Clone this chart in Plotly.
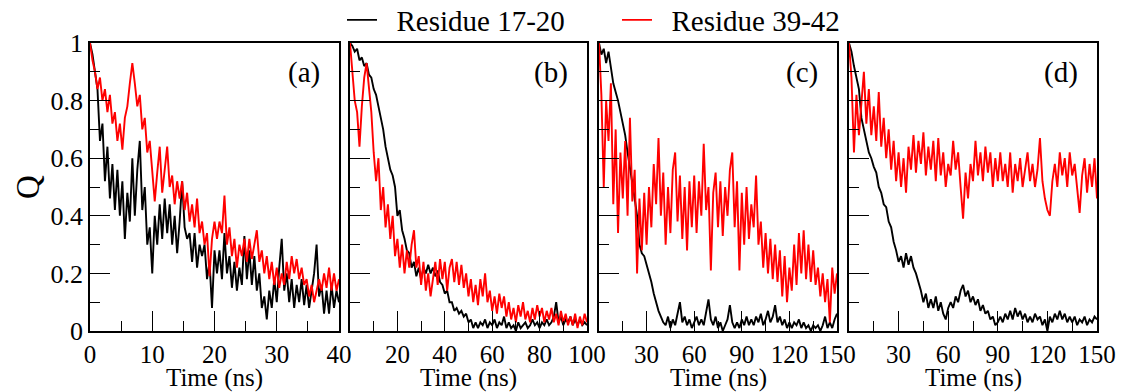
import numpy as np
import plotly.graph_objects as go

# ---------------- data (Q vs time) ----------------
series_names = ["Residue 17-20", "Residue 39-42"]
panel_labels = ["(a)", "(b)", "(c)", "(d)"]
x_title = "Time (ns)"
y_title = "Q"
t_max = [40, 100, 150, 150]

a_black = [1.00, 0.96, 0.90, 0.84, 0.66, 0.72, 0.52, 0.64, 0.46, 0.58, 0.42, 0.56, 0.40, 0.52, 0.32, 0.48,
           0.38, 0.60, 0.40, 0.56, 0.66, 0.42, 0.50, 0.30, 0.36, 0.20, 0.40, 0.30, 0.44, 0.32, 0.46, 0.34,
           0.44, 0.30, 0.40, 0.27, 0.38, 0.52, 0.36, 0.32, 0.34, 0.24, 0.34, 0.22, 0.30, 0.26, 0.30, 0.18,
           0.24, 0.08, 0.28, 0.20, 0.28, 0.18, 0.34, 0.20, 0.26, 0.15, 0.24, 0.14, 0.22, 0.16, 0.33, 0.18,
           0.28, 0.16, 0.26, 0.14, 0.20, 0.08, 0.12, 0.04, 0.14, 0.08, 0.18, 0.10, 0.22, 0.32, 0.14, 0.20,
           0.10, 0.18, 0.08, 0.16, 0.10, 0.18, 0.09, 0.16, 0.08, 0.14, 0.20, 0.30, 0.12, 0.16, 0.06, 0.14,
           0.06, 0.16, 0.08, 0.14, 0.10]
a_red = [1.00, 0.94, 0.90, 0.84, 0.88, 0.80, 0.84, 0.76, 0.82, 0.72, 0.76, 0.66, 0.72, 0.63, 0.74, 0.78,
         0.86, 0.93, 0.86, 0.78, 0.82, 0.70, 0.74, 0.62, 0.66, 0.56, 0.45, 0.55, 0.64, 0.48, 0.56, 0.64,
         0.50, 0.54, 0.44, 0.52, 0.46, 0.52, 0.42, 0.48, 0.38, 0.44, 0.36, 0.46, 0.34, 0.38, 0.30, 0.34,
         0.19, 0.32, 0.38, 0.32, 0.38, 0.34, 0.47, 0.30, 0.36, 0.26, 0.32, 0.22, 0.30, 0.26, 0.32, 0.24,
         0.32, 0.25, 0.30, 0.35, 0.24, 0.28, 0.20, 0.26, 0.18, 0.24, 0.16, 0.22, 0.15, 0.20, 0.16, 0.24,
         0.18, 0.26, 0.20, 0.25, 0.18, 0.22, 0.16, 0.18, 0.12, 0.16, 0.10, 0.14, 0.18, 0.14, 0.20, 0.15,
         0.22, 0.14, 0.20, 0.14, 0.18]

b_black = [1.00, 0.99, 0.97, 0.98, 0.94, 0.95, 0.92, 0.93, 0.89, 0.88, 0.84, 0.82, 0.78, 0.74, 0.70, 0.64,
           0.60, 0.56, 0.54, 0.50, 0.40, 0.42, 0.35, 0.32, 0.28, 0.27, 0.22, 0.24, 0.19, 0.22, 0.18, 0.22,
           0.20, 0.23, 0.20, 0.22, 0.19, 0.21, 0.17, 0.16, 0.13, 0.14, 0.10, 0.10, 0.07, 0.08, 0.06, 0.07,
           0.05, 0.06, 0.03, 0.04, 0.01, 0.03, 0.01, 0.03, 0.02, 0.04, 0.01, 0.03, 0.02, 0.04, 0.01, 0.03,
           0.02, 0.05, 0.01, 0.03, 0.01, 0.02, 0.00, 0.03, 0.01, 0.02, 0.03, 0.01, 0.02, 0.04, 0.02, 0.03,
           0.01, 0.03, 0.02, 0.04, 0.02, 0.03, 0.05, 0.10, 0.03, 0.05, 0.02, 0.04, 0.03, 0.05, 0.02, 0.04,
           0.02, 0.04, 0.02, 0.03, 0.02]
b_red = [1.00, 0.90, 0.80, 0.76, 0.64, 0.78, 0.88, 0.93, 0.84, 0.76, 0.62, 0.52, 0.60, 0.42, 0.50, 0.36,
         0.44, 0.32, 0.40, 0.26, 0.32, 0.22, 0.30, 0.20, 0.28, 0.22, 0.30, 0.35, 0.22, 0.26, 0.16, 0.24,
         0.14, 0.20, 0.12, 0.18, 0.24, 0.16, 0.25, 0.18, 0.24, 0.14, 0.22, 0.25, 0.17, 0.24, 0.16, 0.23,
         0.15, 0.20, 0.12, 0.18, 0.10, 0.16, 0.09, 0.18, 0.12, 0.20, 0.10, 0.14, 0.07, 0.12, 0.06, 0.13,
         0.08, 0.12, 0.05, 0.10, 0.04, 0.08, 0.03, 0.09, 0.05, 0.10, 0.04, 0.07, 0.03, 0.08, 0.04, 0.09,
         0.05, 0.08, 0.03, 0.07, 0.04, 0.08, 0.03, 0.06, 0.02, 0.07, 0.03, 0.06, 0.02, 0.05, 0.02, 0.06,
         0.01, 0.05, 0.02, 0.06, 0.03]

c_black = [1.00, 0.96, 0.98, 0.93, 0.97, 0.91, 0.86, 0.83, 0.80, 0.76, 0.72, 0.68, 0.62, 0.57, 0.52, 0.46,
           0.40, 0.30, 0.27, 0.26, 0.23, 0.20, 0.17, 0.13, 0.10, 0.07, 0.05, 0.03, 0.02, 0.05, 0.01, 0.04,
           0.02, 0.06, 0.10, 0.03, 0.05, 0.02, 0.04, 0.01, 0.03, 0.05, 0.02, 0.04, 0.02, 0.06, 0.11, 0.04,
           0.02, 0.05, 0.01, 0.03, 0.00, 0.02, 0.04, 0.09, 0.03, 0.01, 0.03, 0.01, 0.04, 0.02, 0.05, 0.02,
           0.04, 0.02, 0.05, 0.03, 0.06, 0.02, 0.04, 0.07, 0.03, 0.05, 0.09, 0.03, 0.05, 0.02, 0.04, 0.01,
           0.03, 0.01, 0.03, 0.02, 0.04, 0.01, 0.03, 0.01, 0.02, 0.00, 0.02, 0.01, 0.02, 0.00, 0.02, 0.05,
           0.01, 0.03, 0.01, 0.04, 0.06]
c_red = [1.00, 0.82, 0.50, 0.80, 0.66, 0.86, 0.44, 0.70, 0.34, 0.62, 0.46, 0.66, 0.40, 0.74, 0.45, 0.56,
         0.20, 0.46, 0.28, 0.48, 0.30, 0.50, 0.36, 0.58, 0.44, 0.67, 0.40, 0.55, 0.30, 0.50, 0.34, 0.56,
         0.62, 0.38, 0.54, 0.32, 0.50, 0.28, 0.52, 0.36, 0.54, 0.34, 0.52, 0.40, 0.65, 0.42, 0.50, 0.21,
         0.48, 0.55, 0.36, 0.52, 0.33, 0.50, 0.40, 0.56, 0.62, 0.36, 0.52, 0.21, 0.48, 0.30, 0.50, 0.32,
         0.44, 0.36, 0.54, 0.30, 0.38, 0.22, 0.34, 0.20, 0.32, 0.18, 0.30, 0.17, 0.28, 0.12, 0.26, 0.10,
         0.22, 0.14, 0.30, 0.16, 0.34, 0.20, 0.35, 0.18, 0.30, 0.17, 0.28, 0.16, 0.22, 0.12, 0.20, 0.10,
         0.18, 0.03, 0.22, 0.13, 0.20]

d_black = [1.00, 0.97, 0.92, 0.88, 0.84, 0.74, 0.70, 0.66, 0.62, 0.60, 0.57, 0.55, 0.50, 0.48, 0.44, 0.43,
           0.38, 0.36, 0.31, 0.28, 0.24, 0.26, 0.22, 0.27, 0.23, 0.26, 0.22, 0.20, 0.17, 0.14, 0.10, 0.13,
           0.08, 0.11, 0.08, 0.12, 0.07, 0.10, 0.06, 0.04, 0.08, 0.10, 0.08, 0.12, 0.10, 0.14, 0.16, 0.12,
           0.14, 0.10, 0.12, 0.09, 0.11, 0.07, 0.09, 0.06, 0.07, 0.04, 0.05, 0.02, 0.03, 0.05, 0.03, 0.06,
           0.04, 0.07, 0.04, 0.08, 0.05, 0.07, 0.04, 0.06, 0.03, 0.05, 0.03, 0.06, 0.04, 0.05, 0.02, 0.04,
           0.00, 0.05, 0.03, 0.06, 0.04, 0.07, 0.04, 0.06, 0.03, 0.05, 0.03, 0.05, 0.02, 0.04, 0.03, 0.05,
           0.02, 0.04, 0.03, 0.05, 0.04]
d_red = [1.00, 0.88, 0.62, 0.82, 0.68, 0.80, 0.90, 0.72, 0.84, 0.68, 0.78, 0.66, 0.83, 0.64, 0.74, 0.60,
         0.70, 0.56, 0.66, 0.52, 0.62, 0.50, 0.60, 0.48, 0.64, 0.56, 0.68, 0.55, 0.66, 0.58, 0.69, 0.54,
         0.64, 0.56, 0.66, 0.52, 0.67, 0.54, 0.62, 0.50, 0.58, 0.54, 0.66, 0.56, 0.62, 0.50, 0.39, 0.55,
         0.46, 0.58, 0.52, 0.66, 0.54, 0.62, 0.52, 0.64, 0.55, 0.62, 0.50, 0.60, 0.52, 0.62, 0.52, 0.58,
         0.50, 0.62, 0.48, 0.58, 0.52, 0.60, 0.50, 0.56, 0.62, 0.52, 0.58, 0.50, 0.56, 0.67, 0.52, 0.46,
         0.42, 0.40, 0.52, 0.58, 0.50, 0.62, 0.54, 0.60, 0.50, 0.62, 0.54, 0.58, 0.48, 0.41, 0.54, 0.60,
         0.48, 0.58, 0.50, 0.60, 0.46]

panels = [(a_black, a_red), (b_black, b_red), (c_black, c_red), (d_black, d_red)]

x_tickvals = [[0, 10, 20, 30, 40], [0, 20, 40, 60, 80, 100],
              [0, 30, 60, 90, 120, 150], [0, 30, 60, 90, 120, 150]]
x_ticktext = [["0", "10", "20", "30", "40"], ["", "20", "40", "60", "80", "100"],
              ["", "30", "60", "90", "120", "150"], ["", "30", "60", "90", "120", "150"]]
x_minor = [5, 10, 15, 15]
y_tickvals = [0, 0.2, 0.4, 0.6, 0.8, 1]
y_ticktext = ["0", "0.2", "0.4", "0.6", "0.8", "1"]

colors = ["#000000", "#ff0000"]

# ---------------- layout geometry (pixels) ----------------
W, H = 1121, 392
px_left = [90, 350, 599, 849]
px_right = [339, 587, 837, 1097]
py_top, py_bot = 43, 331
FONT = "Liberation Serif, Times New Roman, serif"

fig = go.Figure()
for i, (blk, red) in enumerate(panels):
    xa = "x" if i == 0 else f"x{i+1}"
    ya = "y" if i == 0 else f"y{i+1}"
    for j, vals in enumerate((blk, red)):
        t = np.linspace(0, t_max[i], len(vals))
        fig.add_trace(go.Scatter(
            x=t, y=vals, mode="lines", xaxis=xa, yaxis=ya,
            line=dict(color=colors[j], width=1.9),
            name="\u00a0\u00a0" + series_names[j], showlegend=(i == 0), legendrank=j + 1,
        ))

layout = dict(
    width=W, height=H, margin=dict(l=0, r=0, t=0, b=0, autoexpand=False),
    paper_bgcolor="white", plot_bgcolor="white",
    font=dict(family=FONT, color="black", size=26),
    showlegend=True,
    legend=dict(orientation="h", x=342 / W, xanchor="left", y=1 - 20 / H, yanchor="middle",
                font=dict(family=FONT, size=29, color="black"),
                entrywidth=230, entrywidthmode="pixels", bgcolor="rgba(0,0,0,0)",
                tracegroupgap=0, itemwidth=30),
)
annotations = []
for i in range(4):
    key = "" if i == 0 else str(i + 1)
    layout["xaxis" + key] = dict(
        domain=[px_left[i] / W, px_right[i] / W], range=[0, t_max[i]],
        anchor="y" + key, showline=True, mirror=True, linecolor="black", linewidth=1.5,
        showgrid=False, zeroline=False, ticks="inside", ticklen=20, tickwidth=1.3, tickcolor="black",
        tickmode="array", tickvals=x_tickvals[i], ticktext=x_ticktext[i],
        tickfont=dict(family=FONT, size=25, color="black"),
        minor=dict(tickmode="linear", tick0=0, dtick=x_minor[i], ticks="inside", ticklen=10,
                   tickwidth=1.3, tickcolor="black", showgrid=False),
    )
    layout["yaxis" + key] = dict(
        domain=[(H - py_bot) / H, (H - py_top) / H], range=[0, 1],
        anchor="x" + key, showline=True, mirror=True, linecolor="black", linewidth=1.5,
        showgrid=False, zeroline=False, ticks="inside", ticklen=20, tickwidth=1.3, tickcolor="black",
        tickmode="array", tickvals=y_tickvals, ticktext=y_ticktext,
        showticklabels=(i == 0),
        tickfont=dict(family=FONT, size=26, color="black"),
        minor=dict(tickmode="linear", tick0=0, dtick=0.1, ticks="inside", ticklen=10,
                   tickwidth=1.3, tickcolor="black", showgrid=False),
    )
    annotations.append(dict(
        text=panel_labels[i], xref=f"x{key} domain", yref=f"y{key} domain",
        x=1 - 17 / (px_right[i] - px_left[i]), y=1 - 29 / (py_bot - py_top),
        xanchor="right", yanchor="middle", showarrow=False,
        font=dict(family=FONT, size=29, color="black"),
    ))
    annotations.append(dict(
        text=x_title, xref=f"x{key} domain", yref="paper",
        x=0.5, y=(H - 378) / H, xanchor="center", yanchor="middle", showarrow=False,
        borderpad=0, font=dict(family=FONT, size=25, color="black"),
    ))
annotations.append(dict(
    text=y_title, xref="paper", yref="paper", x=28 / W, y=(H - 187) / H, textangle=-90,
    xanchor="center", yanchor="middle", showarrow=False,
    font=dict(family=FONT, size=33, color="black"),
))
layout["annotations"] = annotations
fig.update_layout(**layout)
fig.write_html("out.html")
